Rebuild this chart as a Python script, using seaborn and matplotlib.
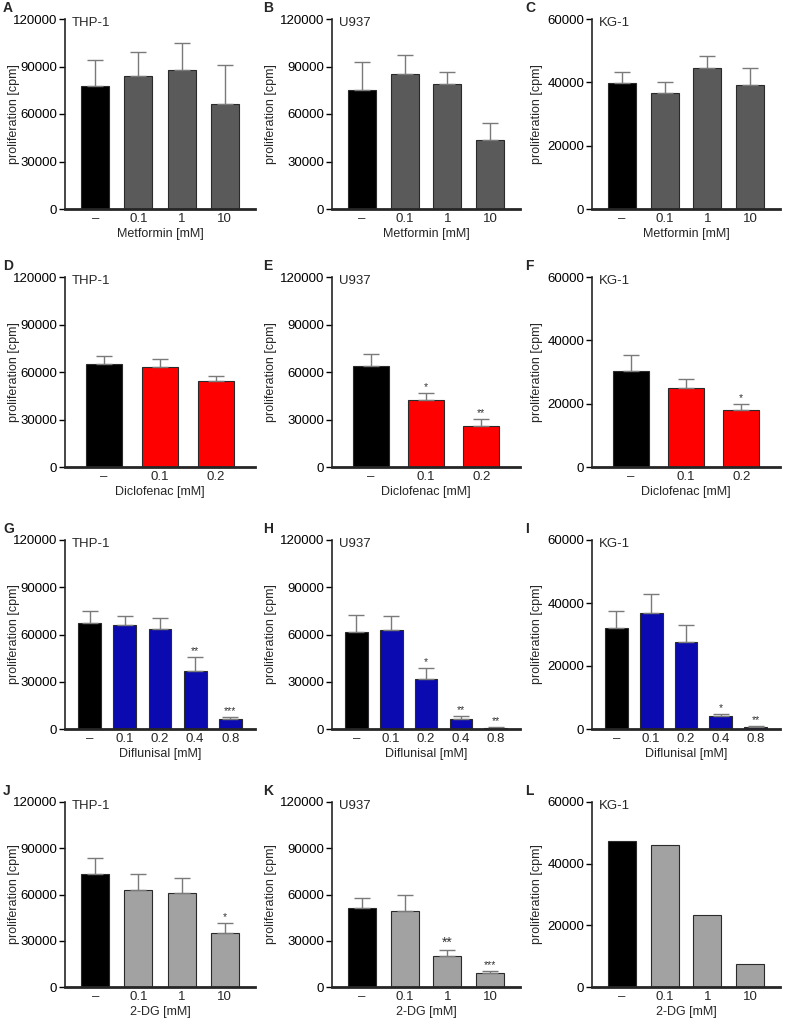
import numpy as np
import pandas as pd
import matplotlib
matplotlib.use("Agg")
import matplotlib.pyplot as plt
import seaborn as sns

sns.set_style("ticks")
plt.rcParams['font.family'] = ['Liberation Sans', 'DejaVu Sans']

# ---------------- data ----------------
metformin_doses = ["–", "0.1", "1", "10"]
diclofenac_doses = ["–", "0.1", "0.2"]
diflunisal_doses = ["–", "0.1", "0.2", "0.4", "0.8"]
dg_doses = ["–", "0.1", "1", "10"]

# mean values (cpm) and upper error (SEM)
A_mean = [78000, 84000, 87600, 66400]
A_err = [16000, 15200, 17400, 24600]
B_mean = [75400, 85000, 78700, 43800]
B_err = [17600, 12000, 8000, 10700]
C_mean = [39700, 36600, 44600, 39300]
C_err = [3600, 3500, 3800, 5100]

D_mean = [65000, 63400, 54500]
D_err = [5100, 4800, 3200]
E_mean = [64000, 42500, 25700]
E_err = [7300, 4300, 4700]
F_mean = [30400, 25000, 17900]
F_err = [4900, 2700, 2100]

G_mean = [67300, 66000, 63500, 36900, 6200]
G_err = [7400, 5800, 7000, 9000, 1700]
H_mean = [61600, 62800, 32000, 6200, 900]
H_err = [11000, 9000, 6900, 2100, 400]
I_mean = [32000, 36900, 27600, 4100, 700]
I_err = [5400, 6100, 5300, 800, 250]

J_mean = [73500, 62700, 61000, 35100]
J_err = [9900, 10400, 9500, 6500]
K_mean = [51400, 49000, 20400, 8900]
K_err = [6300, 10700, 3600, 1700]
L_mean = [47300, 46200, 23400, 7300]

# significance marks
E_sig = ["", "*", "**"]
F_sig = ["", "", "*"]
G_sig = ["", "", "", "**", "***"]
H_sig = ["", "", "*", "**", "**"]
I_sig = ["", "", "", "*", "**"]
J_sig = ["", "", "", "*"]
K_sig = ["", "", "**", "***"]

cell_lines = ["THP-1", "U937", "KG-1"]

BLACK = "#000000"
MET = "#5a5a5a"
RED = "#ff0000"
BLUE = "#0a0ab0"
LGRAY = "#a2a2a2"

panels = [
    ("A", metformin_doses, A_mean, A_err, None, "Metformin [mM]", MET, 120000),
    ("B", metformin_doses, B_mean, B_err, None, "Metformin [mM]", MET, 120000),
    ("C", metformin_doses, C_mean, C_err, None, "Metformin [mM]", MET, 60000),
    ("D", diclofenac_doses, D_mean, D_err, None, "Diclofenac [mM]", RED, 120000),
    ("E", diclofenac_doses, E_mean, E_err, E_sig, "Diclofenac [mM]", RED, 120000),
    ("F", diclofenac_doses, F_mean, F_err, F_sig, "Diclofenac [mM]", RED, 60000),
    ("G", diflunisal_doses, G_mean, G_err, G_sig, "Diflunisal [mM]", BLUE, 120000),
    ("H", diflunisal_doses, H_mean, H_err, H_sig, "Diflunisal [mM]", BLUE, 120000),
    ("I", diflunisal_doses, I_mean, I_err, I_sig, "Diflunisal [mM]", BLUE, 60000),
    ("J", dg_doses, J_mean, J_err, J_sig, "2-DG [mM]", LGRAY, 120000),
    ("K", dg_doses, K_mean, K_err, K_sig, "2-DG [mM]", LGRAY, 120000),
    ("L", dg_doses, L_mean, None, None, "2-DG [mM]", LGRAY, 60000),
]

W, H = 788, 1026
fig = plt.figure(figsize=(W / 100, H / 100), dpi=100)

col_left = [65, 332, 592]
col_width = [190, 188, 188]
row_top = [19, 277, 540, 802]
row_height = [190, 190, 189, 185]
ylabel_right = [20, 277, 543]
letter_x = [3, 263, 525]

for idx, (letter, doses, mean, err, sig, xlabel, color, ymax) in enumerate(panels):
    r, c = divmod(idx, 3)
    l, w = col_left[c], col_width[c]
    t, h = row_top[r], row_height[r]
    ax = fig.add_axes([l / W, 1 - (t + h) / H, w / W, h / H])
    n = len(doses)
    df = pd.DataFrame({"dose": doses, "cpm": mean})
    palette = {d: (BLACK if i == 0 else color) for i, d in enumerate(doses)}
    sns.barplot(data=df, x="dose", y="cpm", hue="dose", palette=palette,
                legend=False, ax=ax, width=0.65, order=doses,
                edgecolor="#2a2a2a", linewidth=0.8, errorbar=None,
                saturation=1)
    if err is not None:
        xs = np.arange(n)
        ax.errorbar(xs, mean, yerr=[np.zeros(n), err], fmt="none",
                    ecolor="#7a7a7a", elinewidth=1.0, capsize=5.5,
                    capthick=1.0, zorder=1)
        tops = np.array(mean) + np.array(err)
    else:
        tops = np.array(mean)
    if sig is not None:
        for i, s in enumerate(sig):
            if s:
                big = (letter == "K" and s == "**")
                ax.annotate(s, (i, tops[i]), xytext=(0, 0.5),
                            textcoords="offset points", ha="center",
                            va="bottom", fontsize=10 if big else 7.5,
                            color="#333333")
    ax.set_xlim(-0.7, n - 0.3)
    ax.set_ylim(0, ymax)
    if ymax == 120000:
        ticks = [0, 30000, 60000, 90000, 120000]
    else:
        ticks = [0, 20000, 40000, 60000]
    ax.set_yticks(ticks)
    ax.set_yticklabels([str(v) for v in ticks])
    ax.tick_params(axis="y", length=4.5, width=1.0, labelsize=9.5, pad=1,
                   colors="#000000")
    ax.tick_params(axis="x", length=0, labelsize=9.5, pad=3)
    for s in ["top", "right"]:
        ax.spines[s].set_visible(False)
    ax.spines["left"].set_linewidth(1.2)
    ax.spines["bottom"].set_linewidth(2.0)
    ax.set_xlabel(xlabel, fontsize=9, labelpad=2)
    ax.set_ylabel("proliferation [cpm]", fontsize=9)
    ax.yaxis.set_label_coords((ylabel_right[c] - l) / w, 0.5)
    ax.text(7 / w, 1 - 4 / h, cell_lines[c], transform=ax.transAxes,
            fontsize=9.5, va="center", ha="left")
    fig.text(letter_x[c] / W, 1 - (t - 11) / H, letter, fontsize=10,
             fontweight="bold", ha="left", va="center")

fig.savefig("out.png", dpi=100)
